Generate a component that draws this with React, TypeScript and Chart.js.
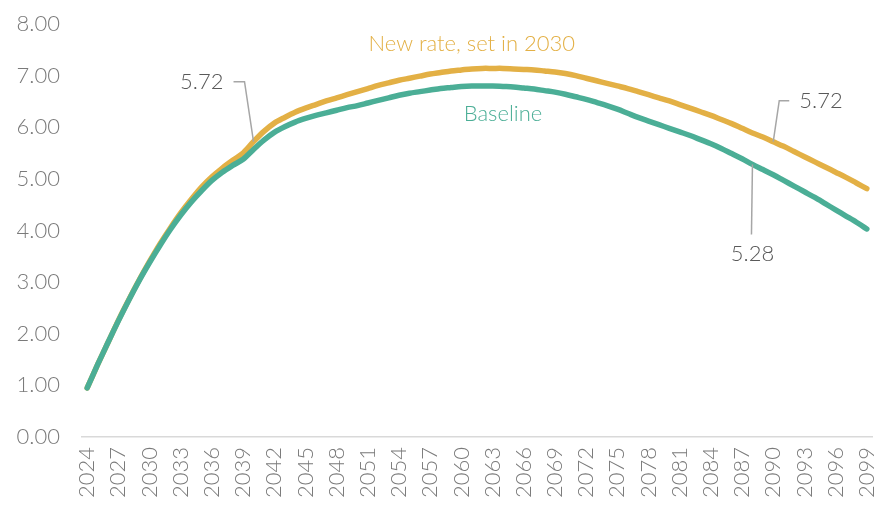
import React, { useEffect, useRef } from "react";
import { Chart, registerables } from "chart.js";

Chart.register(...registerables);

// Years on the category axis
const years: string[] = [];
for (let y = 2024; y <= 2099; y++) years.push(String(y));

// Baseline series, 2024–2099
const baseline: number[] = [
  0.95, 1.40, 1.83, 2.25, 2.65, 3.03, 3.38, 3.71, 4.02, 4.30,
  4.55, 4.77, 4.97, 5.13, 5.26, 5.38, 5.57, 5.75, 5.90, 6.01,
  6.10, 6.17, 6.23, 6.28, 6.33, 6.38, 6.42, 6.47, 6.52, 6.57,
  6.62, 6.66, 6.69, 6.72, 6.75, 6.77, 6.79, 6.80, 6.80, 6.80,
  6.79, 6.78, 6.76, 6.74, 6.71, 6.68, 6.64, 6.59, 6.54, 6.48,
  6.42, 6.35, 6.27, 6.19, 6.12, 6.05, 5.98, 5.91, 5.84, 5.76,
  5.68, 5.59, 5.49, 5.39, 5.28, 5.18, 5.08, 4.97, 4.86, 4.75,
  4.64, 4.52, 4.40, 4.28, 4.16, 4.03,
];

// New rate (set in 2030) series, 2024–2099
const newRate: number[] = [
  0.95, 1.40, 1.83, 2.26, 2.66, 3.04, 3.40, 3.74, 4.05, 4.34,
  4.60, 4.84, 5.04, 5.21, 5.36, 5.50, 5.72, 5.92, 6.08, 6.19,
  6.29, 6.37, 6.44, 6.51, 6.57, 6.63, 6.69, 6.75, 6.81, 6.86,
  6.91, 6.95, 6.99, 7.03, 7.06, 7.09, 7.11, 7.13, 7.14, 7.14,
  7.14, 7.13, 7.12, 7.11, 7.09, 7.07, 7.04, 7.00, 6.95, 6.90,
  6.85, 6.80, 6.75, 6.69, 6.63, 6.57, 6.51, 6.44, 6.37, 6.30,
  6.23, 6.15, 6.07, 5.98, 5.89, 5.81, 5.72, 5.63, 5.53, 5.43,
  5.33, 5.23, 5.13, 5.03, 4.92, 4.81,
];

const yTicks: number[] = [0, 1, 2, 3, 4, 5, 6, 7, 8];

const GOLD = "#E3B045";
const TEAL = "#4BAE96";
const FONT = "Lato, 'Noto Sans', sans-serif";

// Callouts: which series/year, and where the leader and text go
const callouts = [
  { data: newRate, year: "2040", path: [[-9, -60], [-20, -60]], text: [-30, -60], align: "right" },
  { data: newRate, year: "2090", path: [[6, -41], [16, -41]], text: [26, -41], align: "left" },
  { data: baseline, year: "2088", path: [[-1, 70]], text: [0, 89], align: "center" },
];

// Series name labels placed in data space
const seriesLabels = [
  { text: "New rate, set in 2030", year: "2061", value: 7.62, color: GOLD },
  { text: "Baseline", year: "2064", value: 6.25, color: TEAL },
];

const labelPlugin = {
  id: "calloutLabels",
  afterDatasetsDraw(chart: any) {
    const { ctx, scales } = chart;
    const xs = scales.x;
    const ys = scales.y;
    ctx.save();
    ctx.font = `300 22px ${FONT}`;
    ctx.textBaseline = "middle";

    for (const c of callouts) {
      const i = years.indexOf(c.year);
      const v = c.data[i];
      const px = xs.getPixelForValue(i);
      const py = ys.getPixelForValue(v);
      ctx.strokeStyle = "#A6A6A6";
      ctx.lineWidth = 1.5;
      ctx.beginPath();
      ctx.moveTo(px, py);
      for (const [dx, dy] of c.path) ctx.lineTo(px + dx, py + dy);
      ctx.stroke();
      ctx.fillStyle = "#595959";
      ctx.textAlign = c.align as CanvasTextAlign;
      ctx.fillText(v.toFixed(2), px + c.text[0], py + c.text[1]);
    }

    ctx.textAlign = "center";
    for (const s of seriesLabels) {
      const i = years.indexOf(s.year);
      ctx.fillStyle = s.color;
      ctx.fillText(s.text, xs.getPixelForValue(i), ys.getPixelForValue(s.value));
    }
    ctx.restore();
  },
};

export default function App() {
  const ref = useRef<HTMLCanvasElement | null>(null);

  useEffect(() => {
    if (!ref.current) return;
    const chart = new Chart(ref.current, {
      type: "line",
      data: {
        labels: years,
        datasets: [
          {
            label: "Baseline",
            data: baseline,
            borderColor: TEAL,
            borderWidth: 5.5,
            borderCapStyle: "round",
            pointRadius: 0,
            tension: 0.3,
          },
          {
            label: "New rate, set in 2030",
            data: newRate,
            borderColor: GOLD,
            borderWidth: 5.5,
            borderCapStyle: "round",
            pointRadius: 0,
            tension: 0.3,
          },
        ],
      },
      options: {
        animation: false,
        responsive: false,
        layout: { padding: { top: 24, right: 3, left: 0, bottom: 0 } },
        plugins: {
          legend: { display: false },
          tooltip: { enabled: false },
        },
        scales: {
          x: {
            type: "category",
            offset: true,
            grid: { display: false, drawTicks: false },
            border: { display: true, color: "#D9D9D9", width: 1.5 },
            ticks: {
              autoSkip: false,
              minRotation: 90,
              maxRotation: 90,
              padding: 10,
              color: "#7A7A7A",
              font: { family: FONT, size: 22, weight: "300" },
              callback: (_v: any, i: number) => (i % 3 === 0 ? years[i] : ""),
            },
            afterFit: (s: any) => {
              s.height = 72;
              s.paddingLeft = 0;
              s.paddingRight = 0;
            },
          },
          y: {
            min: yTicks[0],
            max: yTicks[yTicks.length - 1],
            grid: { display: false, drawTicks: false },
            border: { display: false },
            ticks: {
              stepSize: 1,
              padding: 22,
              color: "#7A7A7A",
              font: { family: FONT, size: 22, weight: "300" },
              callback: (v: any) => Number(v).toFixed(2),
            },
            afterFit: (s: any) => {
              s.width = 82;
              s.paddingTop = 0;
              s.paddingBottom = 0;
            },
          },
        },
      },
      plugins: [labelPlugin],
    });
    return () => chart.destroy();
  }, []);

  return (
    <div style={{ position: "absolute", left: 0, top: 0, width: 875, height: 509, background: "#fff" }}>
      <canvas ref={ref} width={875} height={509} />
    </div>
  );
}
